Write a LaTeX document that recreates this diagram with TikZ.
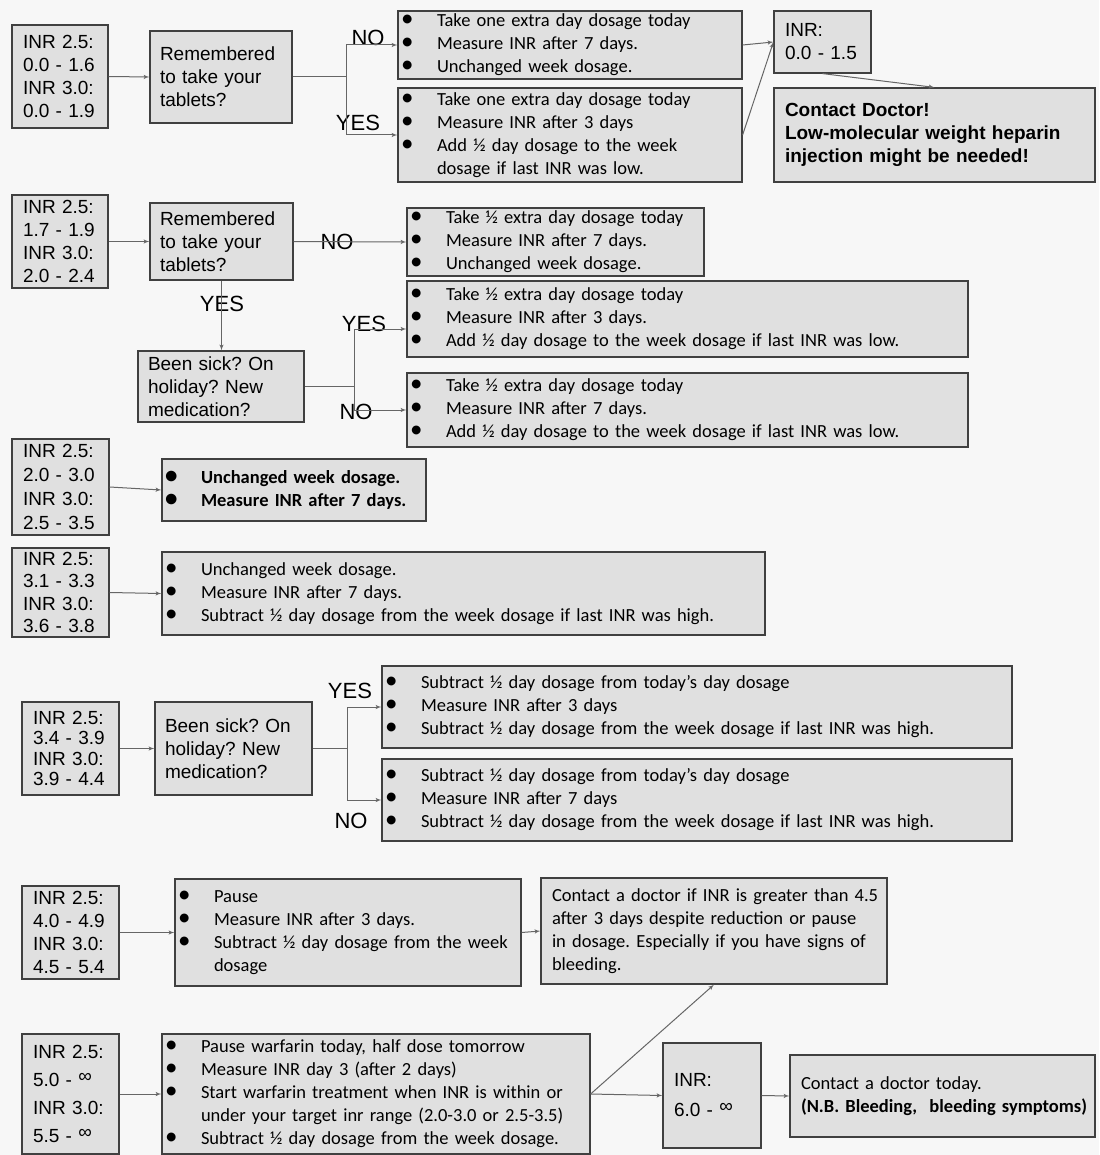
\documentclass[tikz,border=0pt]{standalone}
\usepackage{fontspec}
\setmainfont{Carlito}
\newfontfamily\arialfont{Liberation Sans}
\usepackage{tikz}
\usetikzlibrary{arrows, positioning, calc}

\newcommand{\bul}[1]{\makebox[36pt][l]{\scalebox{1.35}{\textbullet}}\mbox{#1}}
\newcommand{\cont}[1]{\hspace*{36pt}\mbox{#1}}
\newcommand{\infsym}{\raisebox{4pt}{∞}}

\begin{document}
\frenchspacing
\begin{tikzpicture}[
    x=1pt, y=-1pt,
    box/.style={rectangle, draw=black!75, fill=black!12, line width=1.2pt, inner ysep=0pt, align=left},
    inrbox/.style={box, inner xsep=11pt, font=\arialfont\fontsize{19}{23}\selectfont},
    question/.style={box, inner xsep=10pt, font=\arialfont\fontsize{19}{23}\selectfont},
    advice/.style={box, inner xsep=3pt, font=\fontsize{18.5}{23}\selectfont},
    note/.style={box, inner xsep=11pt, font=\fontsize{18.5}{23}\selectfont},
    answer/.style={inner sep=0pt, font=\arialfont\fontsize{22}{22}\selectfont},
    link/.style={draw=black!60, line width=1pt, -latex'},
    branch/.style={draw=black!60, line width=1pt}
]
    \path[use as bounding box, fill=black!3] (0,0) rectangle (1099,1155);

    % Row 1: 0.0 - 1.6
    \node[inrbox, text width=74pt, minimum height=103pt] (in1) at (60,76.5) {INR 2.5:\\0.0 - 1.6\\INR 3.0:\\0.0 - 1.9};
    \node[question, text width=122pt, minimum height=92pt] (ask1) at (221,77) {Remembered\\to take your\\tablets?};
    \node[advice, text width=338pt, minimum height=68pt] (no1) at (570,45) {\bul{Take one extra day dosage today}\\\bul{Measure INR after 7 days.}\\\bul{Unchanged week dosage.}};
    \node[advice, text width=338pt, minimum height=94pt] (yes1) at (570,135) {\bul{Take one extra day dosage today}\\\bul{Measure INR after 3 days}\\\bul{Add ½ day dosage to the week}\\\cont{dosage if last INR was low.}};
    \node[inrbox, text width=75pt, minimum height=62pt] (inr1) at (822.5,42) {INR:\\0.0 - 1.5};
    \node[inrbox, text width=299pt, minimum height=94pt, font=\arialfont\bfseries\fontsize{19}{23}\selectfont] (doc1) at (934.5,135) {Contact Doctor!\\Low-molecular weight heparin\\injection might be needed!};
    \coordinate (j1) at (346,77);
    \node[answer] (lblno1) at (368,38) {NO};
    \node[answer] (lblyes1) at (358,123) {YES};

    \draw[link] (in1.east) -- (ask1.west);
    \draw[branch] (ask1.east) -- (j1);
    \draw[link] (j1) |- (no1.west);
    \draw[link] (j1) |- (yes1.west);
    \draw[link] (no1.east) -- (inr1.west);
    \draw[link] (yes1.east) -- (inr1.west);
    \draw[link] (inr1.south) -- (doc1.north);

    % Row 2: 1.7 - 1.9
    \node[inrbox, text width=74pt, minimum height=93pt] (in2) at (60,241.5) {INR 2.5:\\1.7 - 1.9\\INR 3.0:\\2.0 - 2.4};
    \node[question, text width=123pt, minimum height=77pt] (ask2) at (221.5,241.5) {Remembered\\to take your\\tablets?};
    \node[advice, text width=291pt, minimum height=68pt] (no2) at (555.5,242) {\bul{Take ½ extra day dosage today}\\\bul{Measure INR after 7 days.}\\\bul{Unchanged week dosage.}};
    \node[question, text width=146pt, minimum height=71pt] (ask3) at (221,386.5) {Been sick? On\\holiday? New\\medication?};
    \node[advice, text width=555pt, minimum height=76pt] (yes2) at (687.5,319) {\bul{Take ½ extra day dosage today}\\\bul{Measure INR after 3 days.}\\\bul{Add ½ day dosage to the week dosage if last INR was low.}};
    \node[advice, text width=555pt, minimum height=74pt] (no3) at (687.5,410) {\bul{Take ½ extra day dosage today}\\\bul{Measure INR after 7 days.}\\\bul{Add ½ day dosage to the week dosage if last INR was low.}};
    \coordinate (j2) at (354,386.5);
    \node[answer] (lblno2) at (337,242) {NO};
    \node[answer] (lblyes2) at (222,304) {YES};
    \node[answer] (lblyes3) at (364,324) {YES};
    \node[answer] (lblno3) at (356,412) {NO};

    \draw[link] (in2.east) -- (ask2.west);
    \draw[link] (ask2.east) -- (no2.west);
    \draw[link] (ask2.south) -- (ask2.south |- ask3.north);
    \draw[branch] (ask3.east) -- (j2);
    \draw[link] (j2) |- ([yshift=-10pt]yes2.west);
    \draw[link] (j2) |- (no3.west);

    % Row 3: in range and slightly high
    \node[inrbox, text width=75pt, minimum height=96pt, font=\arialfont\fontsize{19}{24}\selectfont] (in3) at (60.5,487) {INR 2.5:\\2.0 - 3.0\\INR 3.0:\\2.5 - 3.5};
    \node[advice, text width=258pt, minimum height=62pt, font=\bfseries\fontsize{18.5}{23}\selectfont] (keep1) at (294,490) {\bul{Unchanged week dosage.}\\\bul{Measure INR after 7 days.}};
    \node[inrbox, text width=75pt, minimum height=89pt, font=\arialfont\fontsize{19}{22.5}\selectfont] (in4) at (60.5,592.5) {INR 2.5:\\3.1 - 3.3\\INR 3.0:\\3.6 - 3.8};
    \node[advice, text width=597pt, minimum height=83pt] (keep2) at (463.5,593.5) {\bul{Unchanged week dosage.}\\\bul{Measure INR after 7 days.}\\\bul{Subtract ½ day dosage from the week dosage if last INR was high.}};

    \draw[link] (in3.east) -- (keep1.west);
    \draw[link] (in4.east) -- (keep2.west);

    % Row 4: 3.4 - 3.9
    \node[inrbox, text width=75pt, minimum height=93pt, font=\arialfont\fontsize{19}{20.5}\selectfont] (in5) at (70.5,748.5) {INR 2.5:\\3.4 - 3.9\\INR 3.0:\\3.9 - 4.4};
    \node[question, text width=137pt, minimum height=93pt] (ask4) at (233.5,748.5) {Been sick? On\\holiday? New\\medication?};
    \node[advice, text width=624pt, minimum height=82pt] (yes3) at (697,707) {\bul{Subtract ½ day dosage from today’s day dosage}\\\bul{Measure INR after 3 days}\\\bul{Subtract ½ day dosage from the week dosage if last INR was high.}};
    \node[advice, text width=624pt, minimum height=82pt] (no4) at (697,800) {\bul{Subtract ½ day dosage from today’s day dosage}\\\bul{Measure INR after 7 days}\\\bul{Subtract ½ day dosage from the week dosage if last INR was high.}};
    \coordinate (j3) at (347,748.5);
    \node[answer] (lblyes4) at (350,691) {YES};
    \node[answer] (lblno4) at (351,821) {NO};

    \draw[link] (in5.east) -- (ask4.west);
    \draw[branch] (ask4.east) -- (j3);
    \draw[link] (j3) |- (yes3.west);
    \draw[link] (j3) |- (no4.west);

    % Row 5: 4.0 and above
    \node[inrbox, text width=75pt, minimum height=93pt] (in6) at (70.5,932.5) {INR 2.5:\\4.0 - 4.9\\INR 3.0:\\4.5 - 5.4};
    \node[advice, text width=340pt, minimum height=107pt] (pause1) at (348,932.5) {\bul{Pause}\\\bul{Measure INR after 3 days.}\\\bul{Subtract ½ day dosage from the week}\\\cont{dosage}};
    \node[note, text width=324pt, minimum height=106pt] (call1) at (714,931) {\mbox{Contact a doctor if INR is greater than 4.5}\\\mbox{after 3 days despite reduction or pause}\\\mbox{in dosage. Especially if you have signs of}\\bleeding.};
    \node[inrbox, text width=75pt, minimum height=120pt, font=\arialfont\fontsize{19}{28}\selectfont] (in7) at (70.5,1094) {INR 2.5:\\5.0 - \infsym\\INR 3.0:\\5.5 - \infsym};
    \node[advice, text width=422pt, minimum height=120pt] (pause2) at (376,1094) {\bul{Pause warfarin today, half dose tomorrow}\\\bul{Measure INR day 3 (after 2 days)}\\\bul{Start warfarin treatment when INR is within or}\\\cont{under your target inr range (2.0-3.0 or 2.5-3.5)}\\\bul{Subtract ½ day dosage from the week dosage.}};
    \node[inrbox, text width=76pt, minimum height=105pt, font=\arialfont\fontsize{19}{30}\selectfont] (inr2) at (712,1095.5) {INR:\\6.0 - \infsym};
    \node[note, text width=283pt, minimum height=82pt] (call2) at (942.5,1096) {Contact a doctor today.\\\mbox{\textbf{(N.B. Bleeding,\ \ bleeding symptoms)}}};

    \draw[link] (in6.east) -- (pause1.west);
    \draw[link] (pause1.east) -- (call1.west);
    \draw[link] (in7.east) -- (pause2.west);
    \draw[link] (pause2.east) -- (inr2.west);
    \draw[link] (pause2.east) -- (call1.south);
    \draw[link] (inr2.east) -- (call2.west);
\end{tikzpicture}
\end{document}
